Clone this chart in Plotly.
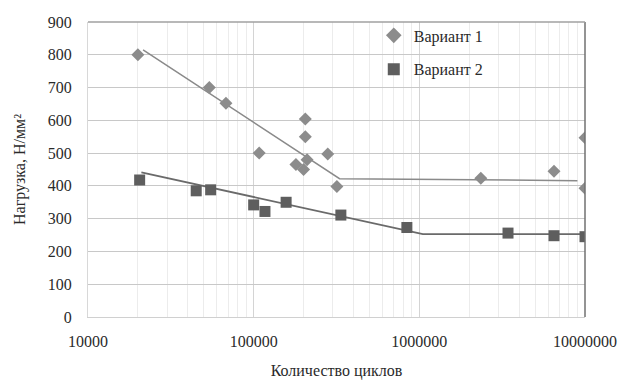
import plotly.graph_objects as go

# Data
v1_x = [20000, 54000, 68000, 108000, 205000, 205000, 180000, 200000, 210000, 280000, 318000, 2350000, 6500000, 10000000, 10000000]
v1_y = [800, 700, 652, 500, 604, 550, 465, 450, 480, 497, 398, 423, 445, 547, 393]

v2_x = [20500, 45000, 55000, 100000, 117000, 157000, 336000, 841000, 3430000, 6500000, 10000000]
v2_y = [418, 385, 388, 342, 322, 350, 311, 273, 256, 248, 245]

trend1_x = [21500, 330000, 9000000]
trend1_y = [815, 422, 416]

trend2_x = [21000, 1050000, 10000000]
trend2_y = [441, 253, 253]

x_ticks = [10000, 100000, 1000000, 10000000]
x_tick_labels = ["10000", "100000", "1000000", "10000000"]

minor_vals = [m * 10 ** e for e in range(4, 7) for m in range(2, 10)]

font_family = "Times New Roman, Liberation Serif, serif"
text_col = "#2a2a2a"

fig = go.Figure()

fig.add_trace(go.Scatter(x=trend1_x, y=trend1_y, mode="lines",
                         line=dict(color="#8a8a8a", width=1.5),
                         showlegend=False, hoverinfo="skip"))
fig.add_trace(go.Scatter(x=trend2_x, y=trend2_y, mode="lines",
                         line=dict(color="#6a6a6a", width=1.8),
                         showlegend=False, hoverinfo="skip"))

fig.add_trace(go.Scatter(x=v1_x, y=v1_y, mode="markers", name="Вариант 1",
                         legendgroup="a",
                         marker=dict(symbol="diamond", size=10, color="#8c8c8c")))
fig.add_trace(go.Scatter(x=v2_x, y=v2_y, mode="markers", name="Вариант 2",
                         legendgroup="b",
                         marker=dict(symbol="square", size=11, color="#5e5e5e")))

fig.update_layout(
    width=622, height=381,
    margin=dict(l=88, r=37, t=22, b=64),
    paper_bgcolor="white", plot_bgcolor="white",
    font=dict(family=font_family, size=16, color=text_col),
    legend=dict(x=0.575, y=1.012, xanchor="left", yanchor="top",
                bgcolor="rgba(255,255,255,0)", font=dict(size=16, family=font_family),
                itemsizing="constant", tracegroupgap=10, traceorder="grouped",
                itemwidth=30),
    showlegend=True,
)

fig.update_xaxes(
    type="log", range=[4, 7], automargin=False,
    tickvals=x_ticks, ticktext=x_tick_labels,
    showgrid=True, gridcolor="#d4d4d4", gridwidth=1,
    minor=dict(tickvals=minor_vals, showgrid=True, gridcolor="#ececec", gridwidth=1),
    showline=True, linecolor="#d0d0d0", mirror=False,
    zeroline=False, ticks="",
    ticklabelstandoff=10,
    title=dict(text="Количество циклов", font=dict(size=16, family=font_family), standoff=15),
    tickfont=dict(size=16, family=font_family),
)
fig.update_yaxes(
    range=[0, 900], dtick=100, automargin=False,
    showgrid=True, gridcolor="#c8c8c8", gridwidth=1,
    showline=True, linecolor="#d8d8d8",
    zeroline=False, ticks="",
    ticklabelstandoff=12,
    title=dict(text="Нагрузка, Н/мм²", font=dict(size=16, family=font_family), standoff=18),
    tickfont=dict(size=16, family=font_family),
)

# Right and top borders of plot area
fig.add_shape(type="line", xref="paper", yref="paper", x0=1, x1=1, y0=0, y1=1,
              line=dict(color="#707070", width=1.5))
fig.add_shape(type="line", xref="paper", yref="paper", x0=0, x1=1, y0=1, y1=1,
              line=dict(color="#a0a0a0", width=1.5))

fig.write_html("out.html", config={"displayModeBar": False},
               post_script="document.body.style.margin='0px';")
